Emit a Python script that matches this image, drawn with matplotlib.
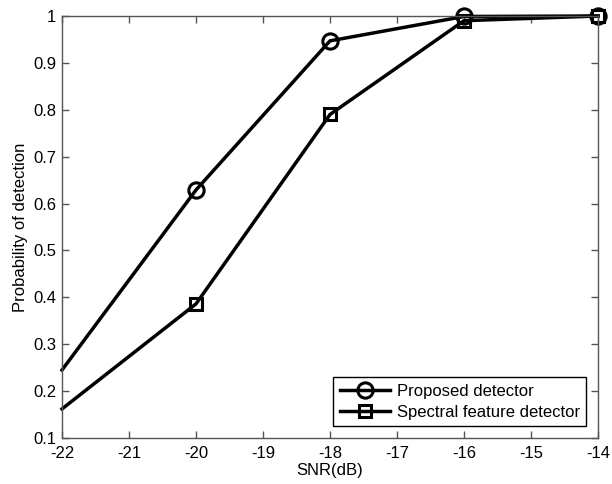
import matplotlib.pyplot as plt

plt.rcParams['font.family'] = ['Liberation Sans', 'DejaVu Sans']
plt.rcParams['axes.unicode_minus'] = False

snr = [-22, -20, -18, -16, -14]
proposto = [0.245, 0.629, 0.947, 0.999, 1.0]
spettrale = [0.162, 0.386, 0.790, 0.990, 1.0]

fig = plt.figure(figsize=(6.12, 4.84), dpi=100)
ax = fig.add_axes([62/612, 1 - 438/484, 536/612, 422/484])

ax.plot(snr, proposto, color='black', lw=2.5, marker='o', ms=11, mfc='none',
        mew=2.2, markevery=[1, 2, 3, 4], label='Proposed detector', clip_on=False)
ax.plot(snr, spettrale, color='black', lw=2.5, marker='s', ms=8, mfc='none',
        mew=2.2, markevery=[1, 2, 3, 4], label='Spectral feature detector', clip_on=False)

ax.set_xlim(-22, -14)
ax.set_ylim(0.1, 1)
ax.set_xticks(range(-22, -13))
ax.set_yticks([0.1, 0.2, 0.3, 0.4, 0.5, 0.6, 0.7, 0.8, 0.9, 1])
ax.set_yticklabels(['0.1', '0.2', '0.3', '0.4', '0.5', '0.6', '0.7', '0.8', '0.9', '1'])
ax.tick_params(direction='in', length=5, labelsize=12, top=True, right=True,
               color='#555555', width=1, labelcolor='black')
ax.tick_params(axis='x', pad=6)
ax.tick_params(axis='y', pad=4)
for s in ax.spines.values():
    s.set_color('#555555')
    s.set_linewidth(1)

ax.set_xlabel('SNR(dB)', fontsize=12, labelpad=1)
ax.set_ylabel('Probability of detection', fontsize=12, labelpad=4)

leg = ax.legend(loc='lower right', fontsize=12, fancybox=False, edgecolor='black',
                framealpha=1, handlelength=3.0, borderaxespad=0.7,
                borderpad=0.4, labelspacing=0.35, handletextpad=0.4)
leg.get_frame().set_linewidth(1)

plt.savefig('out.png', dpi=100)
